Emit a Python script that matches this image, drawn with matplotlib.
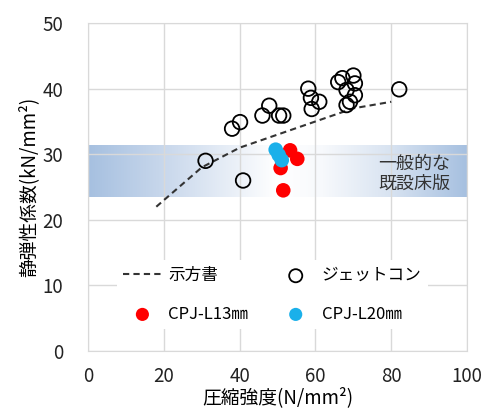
import numpy as np
import matplotlib
matplotlib.use("Agg")
import matplotlib.pyplot as plt
from matplotlib.colors import LinearSegmentedColormap

plt.rcParams["font.family"] = ["Noto Sans CJK JP", "DejaVu Sans"]

# 示方書 curve (compressive strength vs elastic modulus)
spec_fc = [18, 21, 24, 27, 30, 40, 50, 60, 70, 80]
spec_e = [22.0, 23.5, 25.0, 26.5, 28.0, 31.0, 33.0, 35.0, 37.0, 38.0]

# ジェットコン measurements
jet_fc = [38.0, 40.1, 46.0, 47.8, 50.4, 51.5, 58.1, 58.8, 61.0, 59.0,
          66.0, 67.1, 70.0, 70.4, 68.2, 70.4, 69.1, 68.2, 82.1, 31.0, 40.9]
jet_e = [33.9, 34.9, 35.9, 37.4, 35.9, 35.9, 40.0, 38.6, 38.0, 36.9,
         41.0, 41.6, 42.0, 40.8, 39.8, 39.0, 38.0, 37.5, 39.9, 29.0, 26.0]

# CPJ fibre lengths
l13_fc = [53.3, 55.2, 50.8, 51.5]
l13_e = [30.6, 29.3, 27.9, 24.5]
l20_fc = [49.5, 50.3, 51.1]
l20_e = [30.7, 29.9, 29.1]

# range of typical existing slabs
band_lo, band_hi = 23.5, 31.4

fig = plt.figure(figsize=(4.84, 4.12), dpi=100)
ax = fig.add_axes([0.182, 0.148, 0.783, 0.796])

# horizontal gradient band: blue at both edges, white near the middle
cmap = LinearSegmentedColormap.from_list(
    "band", [(0.0, "#a6c0e0"), (0.22, "#ccdaed"), (0.5, "#ffffff"),
             (0.62, "#f7f9fc"), (0.8, "#d8e3f1"), (1.0, "#a6c0e0")])
grad = np.linspace(0, 1, 256).reshape(1, -1)
ax.imshow(grad, cmap=cmap, aspect="auto", extent=[0, 100, band_lo, band_hi],
          zorder=0.5, interpolation="bilinear")

ax.plot(spec_fc, spec_e, color="#333333", lw=1.5, ls=(0, (3, 2)),
        zorder=3, label="示方書")
ax.scatter(l13_fc, l13_e, s=110, color="#ff0000", edgecolors="none",
           zorder=4, label="CPJ-L13㎜")
ax.scatter(jet_fc, jet_e, s=110, facecolors="none", edgecolors="black",
           linewidths=1.3, zorder=4, label="ジェットコン")
ax.scatter(l20_fc, l20_e, s=110, color="#1ab0ea", edgecolors="none",
           zorder=5, label="CPJ-L20㎜")

ax.text(95.5, 27.0, "一般的な\n既設床版", ha="right", va="center",
        fontsize=13, color="#333333", linespacing=1.1, zorder=6)

ax.set_xlim(0, 100)
ax.set_ylim(0, 50)
ax.set_xticks(range(0, 101, 20))
ax.set_yticks(range(0, 51, 10))
ax.grid(True, color="#d9d9d9", lw=1.0, zorder=1)
ax.set_axisbelow(False)
for sp in ax.spines.values():
    sp.set_color("#d9d9d9")
ax.tick_params(length=0, labelsize=13.5, colors="#222222")
ax.tick_params(axis="y", pad=18)
ax.tick_params(axis="x", pad=11)
ax.set_xlabel("圧縮強度(N/mm²)", fontsize=13.5, labelpad=0)
ax.set_ylabel("静弾性係数(kN/mm²)", fontsize=13.5, labelpad=2)

h, l = ax.get_legend_handles_labels()
leg = ax.legend(h, l, ncol=2, loc="center", bbox_to_anchor=(0.486, 0.171),
                frameon=True, fontsize=12, handlelength=2.3,
                handletextpad=0.4, columnspacing=1.7, labelspacing=1.3,
                borderpad=0.4, markerscale=0.9)
leg.get_frame().set_edgecolor("none")
leg.get_frame().set_facecolor("white")
leg.get_frame().set_alpha(1)
leg.set_zorder(7)

fig.savefig("out.png", dpi=100)
